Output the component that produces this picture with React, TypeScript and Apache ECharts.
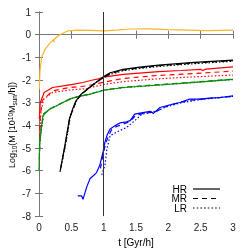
import React, { useEffect, useRef } from "react";
import * as echarts from "echarts";

const xTicks = [0, 0.5, 1, 1.5, 2, 2.5, 3];
const yTicks = [-8, -7, -6, -5, -4, -3, -2, -1, 0, 1];
const legendLabels = ["HR", "MR", "LR"];

const orangeHR = [[0.005,-2.4],[0.015,-1.6],[0.04,-1.0],[0.09,-0.66],[0.17,-0.37],[0.225,-0.22],[0.23,-0.33],[0.235,-0.2],[0.32,0.0],[0.45,0.17],[0.6,0.2],[0.8,0.19],[1.0,0.17],[1.2,0.2],[1.4,0.25],[1.7,0.26],[2.0,0.22],[2.3,0.2],[2.6,0.18],[3.0,0.2]];

const redHR = [[0.005,-3.72],[0.02,-2.99],[0.08,-2.55],[0.21,-2.33],[0.37,-2.26],[0.52,-2.19],[0.68,-2.11],[0.83,-2.0],[0.92,-1.95],[1.0,-1.87],[1.3,-1.75],[1.85,-1.63],[2.2,-1.58],[2.5,-1.53],[2.53,-1.58],[2.58,-1.52],[3.0,-1.42]];
const redMR = [[0.01,-4.6],[0.02,-3.6],[0.05,-2.9],[0.21,-2.48],[0.47,-2.33],[0.73,-2.26],[0.99,-2.1],[1.3,-1.93],[1.82,-1.8],[2.4,-1.71],[3.0,-1.61]];
const redLR = [[0.01,-4.55],[0.03,-3.4],[0.07,-2.85],[0.21,-2.55],[0.47,-2.44],[0.73,-2.38],[0.99,-2.2],[1.3,-2.07],[1.82,-1.95],[2.4,-1.86],[3.0,-1.78]];

const greenHR = [[0.0,-6.0],[0.01,-4.85],[0.04,-4.05],[0.06,-3.57],[0.16,-3.3],[0.37,-2.99],[0.47,-2.84],[0.6,-2.73],[0.78,-2.63],[1.0,-2.45],[1.3,-2.33],[1.85,-2.22],[2.4,-2.1],[3.0,-1.97]];
const greenMR = [[0.005,-5.5],[0.015,-4.6],[0.045,-3.95],[0.07,-3.5],[0.17,-3.27],[0.38,-2.97],[0.5,-2.82],[0.62,-2.72],[0.8,-2.61],[1.0,-2.44],[1.3,-2.32],[1.85,-2.2],[2.4,-2.09],[3.0,-1.96]];
const greenLR = [[0.005,-5.3],[0.02,-4.5],[0.05,-3.9],[0.08,-3.48],[0.18,-3.25],[0.4,-2.96],[0.52,-2.8],[0.64,-2.71],[0.82,-2.6],[1.0,-2.46],[1.3,-2.34],[1.85,-2.23],[2.4,-2.11],[3.0,-1.98]];

const blackHR = [[0.325,-6.05],[0.4,-4.88],[0.47,-3.72],[0.52,-3.28],[0.57,-2.92],[0.65,-2.63],[0.78,-2.33],[0.91,-2.04],[1.0,-1.85],[1.1,-1.68],[1.3,-1.53],[1.56,-1.43],[1.85,-1.34],[2.4,-1.22],[3.0,-1.12]];
const blackMR = [[0.335,-5.9],[0.41,-4.8],[0.475,-3.68],[0.53,-3.25],[0.58,-2.9],[0.66,-2.62],[0.79,-2.32],[0.92,-2.04],[1.0,-1.88],[1.1,-1.72],[1.3,-1.56],[1.56,-1.46],[1.85,-1.37],[2.4,-1.25],[3.0,-1.15]];
const blackLR = [[0.345,-5.8],[0.42,-4.7],[0.485,-3.6],[0.54,-3.2],[0.59,-2.86],[0.67,-2.58],[0.8,-2.28],[0.93,-2.0],[1.0,-1.9],[1.1,-1.75],[1.3,-1.59],[1.56,-1.49],[1.85,-1.4],[2.4,-1.28],[3.0,-1.17]];

const blueHR = [[0.6,-7.11],[0.66,-7.11],[0.68,-7.26],[0.74,-6.7],[0.79,-6.34],[0.84,-6.22],[0.89,-6.08],[0.94,-5.76],[0.99,-5.17],[1.02,-4.74],[1.05,-4.45],[1.1,-4.16],[1.18,-4.01],[1.25,-3.89],[1.33,-3.86],[1.41,-3.79],[1.48,-3.5],[1.56,-3.46],[1.72,-3.38],[1.77,-3.47],[1.87,-3.21],[2.03,-3.09],[2.18,-2.99],[2.33,-2.84],[2.49,-2.84],[2.64,-2.8],[2.8,-2.77],[3.0,-2.7]];
const blueMR = [[0.95,-5.9],[0.99,-5.3],[1.03,-4.8],[1.07,-4.5],[1.12,-4.2],[1.2,-4.05],[1.3,-3.95],[1.41,-3.82],[1.5,-3.55],[1.6,-3.48],[1.8,-3.4],[2.0,-3.12],[2.3,-2.9],[2.7,-2.8],[3.0,-2.72]];
const blueLR = [[0.97,-6.19],[1.02,-5.76],[1.05,-5.03],[1.1,-4.45],[1.2,-4.3],[1.36,-4.08],[1.51,-3.72],[1.59,-3.5],[1.7,-3.45],[1.82,-3.36],[1.95,-3.2],[2.2,-3.0],[2.6,-2.82],[3.0,-2.72]];

const dividerX = 1;

const ORANGE = "#f7b52a";
const RED = "#ff0000";
const GREEN = "#118811";
const BLACK = "#000000";
const BLUE = "#0000ff";

export default function App() {
  const ref = useRef<HTMLDivElement>(null);
  useEffect(() => {
    if (!ref.current) return;
    const chart = echarts.init(ref.current, null, { renderer: "svg" });
    const ff = "Liberation Sans";
    const line = (data: number[][], color: string, type: any, z = 2) => ({
      type: "line",
      data,
      showSymbol: false,
      silent: true,
      z,
      lineStyle: { color, width: 1.2, type },
    });
    const dashed = [5, 4];
    const dotted = [1.5, 2];
    const series: any[] = [
      line(orangeHR, ORANGE, "solid"),
      line(redMR, RED, dashed), line(redLR, RED, dotted), line(redHR, RED, "solid"),
      line(greenMR, GREEN, dashed), line(greenLR, GREEN, dotted), line(greenHR, GREEN, "solid"),
      line(blueMR, BLUE, dashed), line(blueLR, BLUE, dotted), line(blueHR, BLUE, "solid"),
      line(blackMR, BLACK, dashed), line(blackLR, BLACK, dotted), line(blackHR, BLACK, "solid"),
      {
        type: "line",
        data: [],
        markLine: {
          silent: true,
          symbol: "none",
          label: { show: false },
          lineStyle: { color: "#333", width: 1, type: "solid" },
          data: [{ xAxis: dividerX }],
        },
      },
    ];
    const axisLine = { show: true, lineStyle: { color: "#777", width: 1 } };
    const tick = { show: true, inside: true, length: 4, lineStyle: { color: "#777" } };
    const legendY = [189, 198.5, 208];
    const legendDash: any[] = [null, [5, 4], [1.5, 2.2]];
    const graphics: any[] = [];
    legendLabels.forEach((lab, i) => {
      graphics.push({
        type: "text",
        x: 187,
        y: legendY[i],
        style: { text: lab, fontSize: 10, fontFamily: ff, fill: "#000", align: "right", verticalAlign: "middle" },
      });
      graphics.push({
        type: "line",
        shape: { x1: 193, y1: legendY[i], x2: 220, y2: legendY[i] },
        style: { stroke: "#000", lineWidth: 1.2, lineDash: legendDash[i] },
      });
    });
    graphics.push({
      type: "text",
      x: 12,
      y: 125,
      rotation: Math.PI / 2,
      style: {
        text: "Log{sub|10}(M [10{sup|10}M{sub|sun}/h])",
        fontSize: 9,
        fontFamily: ff,
        fill: "#000",
        align: "center",
        verticalAlign: "middle",
        lineHeight: 11,
        rich: {
          sub: { fontSize: 6.5, lineHeight: 6.5, verticalAlign: "bottom", fontFamily: ff },
          sup: { fontSize: 6.5, lineHeight: 6.5, verticalAlign: "top", fontFamily: ff },
        },
      },
    });
    chart.setOption({
      animation: false,
      textStyle: { fontFamily: ff },
      grid: { left: 39, right: 19, top: 12, bottom: 34 },
      xAxis: [
        {
          type: "value", min: xTicks[0], max: xTicks[xTicks.length - 1], interval: 0.5, position: "bottom",
          axisLine, axisTick: tick, splitLine: { show: false },
          axisLabel: { color: "#222", fontSize: 10, fontFamily: ff, margin: 6, formatter: (v: number) => String(v) },
          name: "t [Gyr/h]", nameLocation: "middle", nameGap: 20,
          nameTextStyle: { color: "#000", fontSize: 10, fontFamily: ff },
        },
        {
          type: "value", min: xTicks[0], max: xTicks[xTicks.length - 1], interval: 0.5, position: "top",
          axisLine, axisTick: tick, splitLine: { show: false }, axisLabel: { show: false },
        },
      ],
      yAxis: [
        {
          type: "value", min: yTicks[0], max: yTicks[yTicks.length - 1], interval: 1, position: "left",
          axisLine, axisTick: tick, splitLine: { show: false },
          axisLabel: { color: "#222", fontSize: 10, fontFamily: ff, margin: 8 },
        },
        {
          type: "value", min: yTicks[0], max: yTicks[yTicks.length - 1], interval: 1, position: "right",
          axisLine, axisTick: tick, splitLine: { show: false }, axisLabel: { show: false },
        },
      ],
      series,
      graphic: graphics,
    });
    return () => chart.dispose();
  }, []);
  return <div ref={ref} style={{ position: "fixed", left: 0, top: 0, width: 252, height: 252 }} />;
}
